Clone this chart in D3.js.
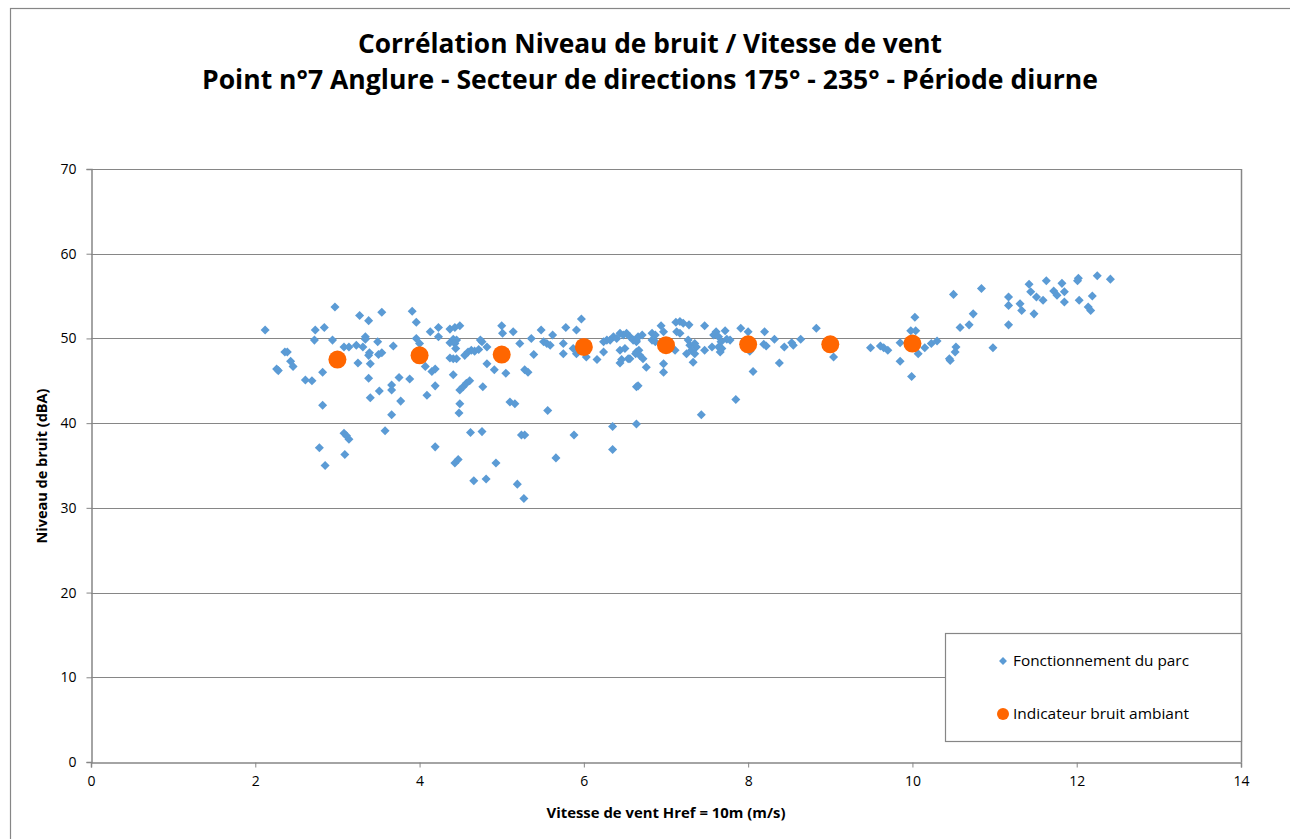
<!DOCTYPE html>
<html>
<head>
<meta charset="utf-8">
<script src="https://cdn.jsdelivr.net/npm/d3@7"></script>
<style>
  html, body { margin: 0; padding: 0; background: #fff; }
  svg { display: block; }
  text { font-family: "Open Sans", "Liberation Sans", sans-serif; fill: #000; }
</style>
</head>
<body>
<svg id="chart" width="1290" height="839"></svg>
<script>
// Chart text
const titleLines = [
  "Corrélation Niveau de bruit / Vitesse de vent",
  "Point n°7 Anglure - Secteur de directions 175° - 235° - Période diurne"
];
const xAxisTitle = "Vitesse de vent Href = 10m (m/s)";
const yAxisTitle = "Niveau de bruit (dBA)";
const seriesNames = ["Fonctionnement du parc", "Indicateur bruit ambiant"];

// Axis ticks
const xTicks = [0, 2, 4, 6, 8, 10, 12, 14];
const yTicks = [0, 10, 20, 30, 40, 50, 60, 70];

// Measurements while the wind farm is running: wind speed (m/s) and noise level (dBA)
const parcSpeed = [
  2.12, 2.97, 3.27, 3.38, 3.54, 3.91, 3.96, 2.73, 2.84, 2.72, 2.94, 2.36, 2.39, 2.26, 2.28,
  2.43, 2.46, 2.61, 2.69, 2.82, 2.82, 3.08, 3.14, 3.23, 3.31, 3.34, 3.34, 3.49, 3.39, 3.38,
  3.50, 3.54, 3.68, 3.25, 3.40, 3.38, 3.51, 3.40, 3.66, 3.66, 3.75, 3.77, 3.66, 3.58, 3.88,
  3.96, 4.00, 4.13, 4.23, 4.23, 4.07, 4.15, 4.19, 4.19, 4.09, 3.08, 3.14, 3.11, 2.78, 3.09,
  2.85, 4.19, 4.37, 4.37,
  4.37, 4.43, 4.49, 4.41, 4.45, 4.43, 4.44, 4.41, 4.45, 4.41, 4.49, 4.53, 4.57, 4.61, 4.49,
  4.48, 4.55, 4.59, 4.63, 4.67, 4.72, 4.76, 4.74, 4.82, 4.82, 4.77, 4.91, 5.00, 5.01, 5.14,
  5.05, 5.22, 5.39, 5.28, 5.32, 5.10, 5.16, 5.36, 5.48, 5.51, 5.55, 5.59, 5.62, 5.56, 5.75,
  5.75, 5.78, 5.91, 5.97, 5.87, 5.91, 6.03, 6.16, 6.24, 6.28, 6.32, 6.24, 6.36, 6.40, 6.44,
  6.48, 6.52, 6.56, 6.60, 6.64, 6.44, 6.50, 6.46, 6.44, 6.54, 6.64, 4.62, 4.76, 5.24, 5.28,
  5.88, 6.35, 6.64, 6.35, 4.43, 4.47, 4.93, 5.66, 4.66, 4.81, 5.19, 5.27,
  6.66, 6.71, 6.64, 6.64, 6.63, 6.67, 6.68, 6.72, 6.56, 6.76, 6.66, 6.83, 6.87, 6.94, 6.97,
  6.83, 6.87, 7.12, 7.17, 7.21, 7.28, 7.13, 7.17, 7.11, 6.97, 6.97, 7.27, 7.29, 7.35, 7.37,
  7.31, 7.35, 7.25, 7.33, 7.47, 7.47, 7.56, 7.58, 7.61, 7.64, 7.72, 7.67, 7.64, 7.68, 7.66,
  7.74, 7.78, 7.43, 7.85, 7.91, 8.00, 8.02, 8.06, 8.20, 8.19, 8.22, 8.32, 8.38, 8.44, 8.53,
  8.55, 8.64, 8.83,
  9.04, 9.49, 9.61, 9.65, 9.70, 9.85, 9.85, 10.03, 9.98, 10.04, 10.07, 9.99, 10.15, 10.23, 10.30,
  10.45, 10.46, 10.53, 10.52, 10.50, 10.58, 10.69, 10.74, 10.84, 10.98, 11.17, 11.17, 11.17, 11.31, 11.33,
  11.42, 11.44, 11.51, 11.59, 11.48, 11.63, 11.72, 11.76, 11.82, 11.85, 11.85, 12.02, 12.01, 12.03, 12.14,
  12.17, 12.19, 12.25, 12.41
];
const parcNoise = [
  51.0, 53.7, 52.7, 52.1, 53.1, 53.2, 51.9, 51.0, 51.3, 49.8, 49.8, 48.4, 48.4, 46.4, 46.2,
  47.3, 46.7, 45.1, 45.0, 46.0, 42.1, 49.0, 49.0, 49.2, 49.0, 50.2, 49.9, 49.6, 48.3, 48.0,
  48.1, 48.3, 49.1, 47.1, 47.0, 45.3, 43.8, 43.0, 44.5, 43.9, 45.4, 42.6, 41.0, 39.1, 45.2,
  50.0, 49.4, 50.8, 51.3, 50.2, 46.7, 46.1, 46.4, 44.4, 43.3, 38.8, 38.1, 38.5, 37.1, 36.3,
  35.0, 37.2, 49.5, 47.7,
  51.1, 51.3, 51.5, 49.9, 49.8, 49.4, 48.8, 47.6, 47.6, 45.7, 43.9, 44.3, 44.7, 45.0, 42.3,
  41.2, 48.0, 48.4, 48.6, 48.5, 48.7, 49.6, 49.8, 49.0, 47.0, 44.3, 46.3, 51.5, 50.6, 50.8,
  45.9, 49.4, 48.1, 46.3, 46.0, 42.5, 42.3, 50.0, 51.0, 49.6, 49.4, 49.2, 50.4, 41.5, 49.4,
  48.2, 51.3, 51.0, 52.3, 48.8, 48.2, 47.8, 47.5, 49.6, 49.8, 49.8, 48.4, 50.2, 50.0, 50.6,
  50.4, 50.6, 50.2, 49.8, 49.8, 48.6, 48.8, 47.5, 47.1, 47.6, 44.3, 38.9, 39.0, 38.6, 38.6,
  38.6, 39.6, 39.9, 36.9, 35.3, 35.7, 35.3, 35.9, 33.2, 33.4, 32.8, 31.1,
  50.2, 50.4, 49.6, 48.4, 48.2, 48.6, 48.0, 47.6, 47.6, 46.6, 44.4, 50.6, 50.4, 51.5, 50.8,
  49.8, 49.6, 51.9, 52.0, 51.8, 51.6, 50.8, 50.6, 48.6, 47.0, 46.0, 49.8, 49.2, 49.4, 49.0,
  48.6, 48.2, 48.2, 47.2, 51.5, 48.6, 49.0, 50.4, 50.8, 50.2, 50.9, 49.6, 49.0, 48.8, 48.4,
  49.9, 49.8, 41.0, 42.8, 51.2, 50.8, 48.5, 46.1, 50.8, 49.3, 49.1, 49.9, 47.1, 49.0, 49.5,
  49.2, 49.9, 51.2,
  47.8, 48.9, 49.1, 48.9, 48.6, 49.5, 47.3, 52.5, 50.9, 50.9, 48.2, 45.5, 48.9, 49.4, 49.7,
  47.6, 47.4, 49.0, 48.4, 55.2, 51.3, 51.6, 52.9, 55.9, 48.9, 54.9, 53.9, 51.6, 54.1, 53.3,
  56.4, 55.5, 54.9, 54.5, 52.9, 56.8, 55.6, 55.1, 56.5, 55.5, 54.3, 57.1, 56.8, 54.5, 53.7,
  53.3, 55.0, 57.4, 57.0
];

// Ambient noise indicator per wind speed class
const indicSpeed = [3, 4, 5, 6, 7, 8, 9, 10];
const indicNoise = [47.5, 48.0, 48.1, 49.0, 49.2, 49.3, 49.3, 49.4];

const blue = "#5B9BD5";
const orange = "#FF6600";
const gray = "#868686";

const svg = d3.select("#chart");

// Outer chart frame
svg.append("rect")
  .attr("x", 10.5).attr("y", 8.5)
  .attr("width", 1290).attr("height", 850)
  .attr("fill", "none").attr("stroke", gray).attr("stroke-width", 1.2);

// Plot area
const plot = { left: 91, right: 1241, top: 169, bottom: 762 };
const x = d3.scaleLinear().domain([0, 14]).range([plot.left, plot.right]);
const y = d3.scaleLinear().domain([0, 70]).range([plot.bottom, plot.top]);

// Horizontal gridlines
svg.append("g")
  .selectAll("line")
  .data(yTicks.filter(v => v > 0))
  .join("line")
  .attr("x1", plot.left).attr("x2", plot.right)
  .attr("y1", d => Math.round(y(d)) + 0.5).attr("y2", d => Math.round(y(d)) + 0.5)
  .attr("stroke", gray).attr("stroke-width", 1);

// Right edge of plot area
svg.append("line")
  .attr("x1", plot.right + 0.5).attr("x2", plot.right + 0.5)
  .attr("y1", plot.top).attr("y2", plot.bottom)
  .attr("stroke", gray).attr("stroke-width", 1.5);

// Axes
const xAxis = d3.axisBottom(x).tickValues(xTicks).tickSize(5).tickPadding(9).tickFormat(d3.format("d"));
const yAxis = d3.axisLeft(y).tickValues(yTicks).tickSize(5).tickPadding(10).tickFormat(d3.format("d"));

const gx = svg.append("g").attr("transform", `translate(0,${plot.bottom + 0.5})`).call(xAxis);
const gy = svg.append("g").attr("transform", `translate(${plot.left + 0.5},0)`).call(yAxis);
[gx, gy].forEach(g => {
  g.select(".domain").attr("stroke", gray).attr("stroke-width", 1.5);
  g.selectAll(".tick line").attr("stroke", gray).attr("stroke-width", 1);
  g.selectAll(".tick text")
    .attr("font-family", "'Open Sans', 'Liberation Sans', sans-serif")
    .attr("font-size", 14).attr("fill", "#000");
});

// Measurement points (diamonds)
const diamond = d3.symbol().type(d3.symbolDiamond2).size(52);
svg.append("g")
  .selectAll("path")
  .data(parcSpeed.map((s, i) => [s, parcNoise[i]]))
  .join("path")
  .attr("d", diamond)
  .attr("transform", d => `translate(${x(d[0])},${y(d[1])})`)
  .attr("fill", blue);

// Ambient noise indicator points
svg.append("g")
  .selectAll("circle")
  .data(indicSpeed.map((s, i) => [s, indicNoise[i]]))
  .join("circle")
  .attr("cx", d => x(d[0])).attr("cy", d => y(d[1]))
  .attr("r", 9)
  .attr("fill", orange);

// Titles
const title = svg.append("g").attr("font-weight", "bold");
title.append("text")
  .attr("x", 650).attr("y", 53)
  .attr("text-anchor", "middle")
  .attr("font-size", 26)
  .attr("textLength", 584).attr("lengthAdjust", "spacingAndGlyphs")
  .text(titleLines[0]);
title.append("text")
  .attr("x", 650).attr("y", 89)
  .attr("text-anchor", "middle")
  .attr("font-size", 26)
  .attr("textLength", 896).attr("lengthAdjust", "spacingAndGlyphs")
  .text(titleLines[1]);

svg.append("text")
  .attr("x", 666).attr("y", 818)
  .attr("text-anchor", "middle")
  .attr("font-size", 14).attr("font-weight", "bold")
  .attr("textLength", 239).attr("lengthAdjust", "spacingAndGlyphs")
  .text(xAxisTitle);

svg.append("text")
  .attr("transform", "translate(47,466) rotate(-90)")
  .attr("text-anchor", "middle")
  .attr("font-size", 14).attr("font-weight", "bold")
  .attr("textLength", 155).attr("lengthAdjust", "spacingAndGlyphs")
  .text(yAxisTitle);

// Legend
const legend = svg.append("g");
legend.append("rect")
  .attr("x", 945.5).attr("y", 633.5)
  .attr("width", 296).attr("height", 108)
  .attr("fill", "#fff").attr("stroke", gray).attr("stroke-width", 1.2);
legend.append("path")
  .attr("d", d3.symbol().type(d3.symbolDiamond2).size(40))
  .attr("transform", "translate(1003,661)")
  .attr("fill", blue);
legend.append("circle")
  .attr("cx", 1003).attr("cy", 714).attr("r", 6)
  .attr("fill", orange);
legend.selectAll("text.lbl")
  .data(seriesNames)
  .join("text")
  .attr("class", "lbl")
  .attr("x", 1013)
  .attr("y", (d, i) => 666 + i * 53)
  .attr("font-size", 14.5)
  .attr("textLength", (d, i) => i === 0 ? 176 : 176)
  .attr("lengthAdjust", "spacingAndGlyphs")
  .text(d => d);
</script>
</body>
</html>
